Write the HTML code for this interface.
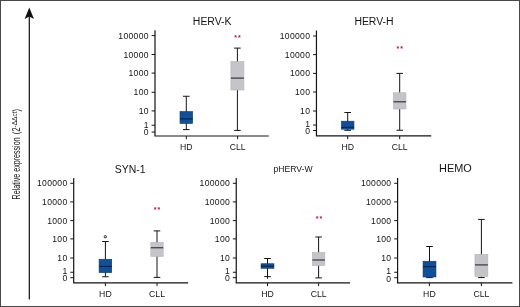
<!DOCTYPE html>
<html lang="en"><head><meta charset="utf-8"><title>Relative expression of HERV families in HD and CLL</title>
<style>
html,body{margin:0;padding:0;background:#fff;}
body{width:520px;height:307px;overflow:hidden;}
svg{display:block;}
text{font-family:"Liberation Sans",sans-serif;fill:#141414;}
.tk{font-size:8.6px;text-anchor:end;letter-spacing:0.3px;}
.xl{font-size:8.7px;text-anchor:middle;}
.tt{text-anchor:middle;}
.st{font-size:7px;text-anchor:middle;fill:#b91238;font-weight:bold;letter-spacing:1px;}
</style></head><body>
<svg width="520" height="307" viewBox="0 0 520 307">
<rect x="0" y="0" width="520" height="307" fill="#fff"/>
<rect x="0.5" y="0.5" width="519" height="306" fill="none" stroke="#484848" stroke-width="1"/>

<line x1="29.3" y1="14" x2="29.3" y2="299.5" stroke="#111" stroke-width="1.2"/>
<path d="M29.3 7.6 L34 19 L29.3 16.4 L24.6 19 Z" fill="#111"/>
<text transform="translate(19.8,199.4) rotate(-90)" font-size="10.3px" x="0" y="0" textLength="62" lengthAdjust="spacingAndGlyphs">Relative expression</text>
<text transform="translate(19.8,134.3) rotate(-90)" font-size="10.3px" x="0" y="0" textLength="6.9" lengthAdjust="spacingAndGlyphs">(2</text>
<text transform="translate(17,127.4) rotate(-90)" font-size="6.5px" x="0" y="0">-ΔΔct</text>
<text transform="translate(19.8,111.4) rotate(-90) scale(0.76,1)" font-size="10.3px" x="0" y="0">)</text>
<g>
<text class="tt" x="212.2" y="24.5" font-size="10.45px">HERV-K</text>
<path d="M155.0 30.2 V136.0 H268.75" fill="none" stroke="#141414" stroke-width="1.2"/>
<line x1="151.6" y1="35.6" x2="155.0" y2="35.6" stroke="#141414" stroke-width="1"/>
<text class="tk" x="148.8" y="38.65">100000</text>
<line x1="151.6" y1="54.5" x2="155.0" y2="54.5" stroke="#141414" stroke-width="1"/>
<text class="tk" x="148.8" y="57.55">10000</text>
<line x1="151.6" y1="73.1" x2="155.0" y2="73.1" stroke="#141414" stroke-width="1"/>
<text class="tk" x="148.8" y="76.15">1000</text>
<line x1="151.6" y1="92.25" x2="155.0" y2="92.25" stroke="#141414" stroke-width="1"/>
<text class="tk" x="148.8" y="95.30">100</text>
<line x1="151.6" y1="110.9" x2="155.0" y2="110.9" stroke="#141414" stroke-width="1"/>
<text class="tk" x="148.8" y="113.95">10</text>
<line x1="151.6" y1="125.25" x2="155.0" y2="125.25" stroke="#141414" stroke-width="1"/>
<text class="tk" x="148.8" y="127.85">1</text>
<line x1="151.6" y1="132.1" x2="155.0" y2="132.1" stroke="#141414" stroke-width="1"/>
<text class="tk" x="148.8" y="134.85">0</text>
<line x1="186.3" y1="136.0" x2="186.3" y2="139.2" stroke="#141414" stroke-width="1"/>
<text class="xl" x="186.3" y="150.3">HD</text>
<line x1="237.6" y1="136.0" x2="237.6" y2="139.2" stroke="#141414" stroke-width="1"/>
<text class="xl" x="237.6" y="150.3">CLL</text>
<line x1="186.3" y1="96.25" x2="186.3" y2="129.6" stroke="#141414" stroke-width="1"/>
<line x1="183.0" y1="96.25" x2="189.60000000000002" y2="96.25" stroke="#141414" stroke-width="1"/>
<line x1="183.0" y1="129.6" x2="189.60000000000002" y2="129.6" stroke="#141414" stroke-width="1"/>
<rect x="180.00" y="111.6" width="12.6" height="11.90" fill="#10509a" stroke="#0b3568" stroke-width="0.6"/>
<line x1="180.00" y1="118.9" x2="192.60" y2="118.9" stroke="#061c3a" stroke-width="1.0"/>
<line x1="237.4" y1="48.1" x2="237.4" y2="130.4" stroke="#141414" stroke-width="1"/>
<line x1="234.1" y1="48.1" x2="240.70000000000002" y2="48.1" stroke="#141414" stroke-width="1"/>
<line x1="234.1" y1="130.4" x2="240.70000000000002" y2="130.4" stroke="#141414" stroke-width="1"/>
<rect x="230.90" y="61.5" width="13.0" height="28.50" fill="#c5c4c9" stroke="#b4b3b9" stroke-width="0.6"/>
<line x1="230.90" y1="78.1" x2="243.90" y2="78.1" stroke="#3c3c40" stroke-width="1.25"/>
<text class="st" x="238.1" y="40.30">**</text>
</g>
<g>
<text class="tt" x="374.0" y="24.5" font-size="10.45px">HERV-H</text>
<path d="M316.45 30.5 V135.95 H431.25" fill="none" stroke="#141414" stroke-width="1.2"/>
<line x1="313.05" y1="36.0" x2="316.45" y2="36.0" stroke="#141414" stroke-width="1"/>
<text class="tk" x="310.25" y="39.05">100000</text>
<line x1="313.05" y1="54.6" x2="316.45" y2="54.6" stroke="#141414" stroke-width="1"/>
<text class="tk" x="310.25" y="57.65">10000</text>
<line x1="313.05" y1="73.4" x2="316.45" y2="73.4" stroke="#141414" stroke-width="1"/>
<text class="tk" x="310.25" y="76.45">1000</text>
<line x1="313.05" y1="92.0" x2="316.45" y2="92.0" stroke="#141414" stroke-width="1"/>
<text class="tk" x="310.25" y="95.05">100</text>
<line x1="313.05" y1="111.0" x2="316.45" y2="111.0" stroke="#141414" stroke-width="1"/>
<text class="tk" x="310.25" y="114.05">10</text>
<line x1="313.05" y1="125.0" x2="316.45" y2="125.0" stroke="#141414" stroke-width="1"/>
<text class="tk" x="310.25" y="126.80">1</text>
<line x1="313.05" y1="130.5" x2="316.45" y2="130.5" stroke="#141414" stroke-width="1"/>
<text class="tk" x="310.25" y="134.15">0</text>
<line x1="347.7" y1="135.95" x2="347.7" y2="139.14999999999998" stroke="#141414" stroke-width="1"/>
<text class="xl" x="347.7" y="150.3">HD</text>
<line x1="399.7" y1="135.95" x2="399.7" y2="139.14999999999998" stroke="#141414" stroke-width="1"/>
<text class="xl" x="399.7" y="150.3">CLL</text>
<line x1="347.7" y1="112.5" x2="347.7" y2="130.3" stroke="#141414" stroke-width="1"/>
<line x1="344.4" y1="112.5" x2="351.0" y2="112.5" stroke="#141414" stroke-width="1"/>
<line x1="344.4" y1="130.3" x2="351.0" y2="130.3" stroke="#141414" stroke-width="1"/>
<rect x="341.45" y="121.2" width="12.5" height="8.00" fill="#10509a" stroke="#0b3568" stroke-width="0.6"/>
<line x1="341.45" y1="127.3" x2="353.95" y2="127.3" stroke="#061c3a" stroke-width="1.0"/>
<line x1="399.7" y1="73.4" x2="399.7" y2="130.25" stroke="#141414" stroke-width="1"/>
<line x1="396.4" y1="73.4" x2="403.0" y2="73.4" stroke="#141414" stroke-width="1"/>
<line x1="396.4" y1="130.25" x2="403.0" y2="130.25" stroke="#141414" stroke-width="1"/>
<rect x="393.45" y="92.75" width="12.5" height="16.25" fill="#c5c4c9" stroke="#b4b3b9" stroke-width="0.6"/>
<line x1="393.45" y1="101.8" x2="405.95" y2="101.8" stroke="#3c3c40" stroke-width="1.25"/>
<text class="st" x="400.2" y="51.20">**</text>
</g>
<g>
<text class="tt" x="130.2" y="172.6" font-size="10.45px">SYN-1</text>
<path d="M73.7 178.0 V282.9 H188.1" fill="none" stroke="#141414" stroke-width="1.2"/>
<line x1="70.3" y1="183.3" x2="73.7" y2="183.3" stroke="#141414" stroke-width="1"/>
<text class="tk" x="67.5" y="186.35">100000</text>
<line x1="70.3" y1="201.9" x2="73.7" y2="201.9" stroke="#141414" stroke-width="1"/>
<text class="tk" x="67.5" y="204.95">10000</text>
<line x1="70.3" y1="220.6" x2="73.7" y2="220.6" stroke="#141414" stroke-width="1"/>
<text class="tk" x="67.5" y="223.65">1000</text>
<line x1="70.3" y1="238.9" x2="73.7" y2="238.9" stroke="#141414" stroke-width="1"/>
<text class="tk" x="67.5" y="241.95">100</text>
<line x1="70.3" y1="258.0" x2="73.7" y2="258.0" stroke="#141414" stroke-width="1"/>
<text class="tk" x="67.5" y="261.05">10</text>
<line x1="70.3" y1="272.25" x2="73.7" y2="272.25" stroke="#141414" stroke-width="1"/>
<text class="tk" x="67.5" y="273.80">1</text>
<line x1="70.3" y1="277.7" x2="73.7" y2="277.7" stroke="#141414" stroke-width="1"/>
<text class="tk" x="67.5" y="281.15">0</text>
<line x1="105.4" y1="282.9" x2="105.4" y2="286.09999999999997" stroke="#141414" stroke-width="1"/>
<text class="xl" x="105.4" y="297.3">HD</text>
<line x1="157.0" y1="282.9" x2="157.0" y2="286.09999999999997" stroke="#141414" stroke-width="1"/>
<text class="xl" x="157.0" y="297.3">CLL</text>
<line x1="105.4" y1="241.5" x2="105.4" y2="276.75" stroke="#141414" stroke-width="1"/>
<line x1="102.10000000000001" y1="241.5" x2="108.7" y2="241.5" stroke="#141414" stroke-width="1"/>
<line x1="102.10000000000001" y1="276.75" x2="108.7" y2="276.75" stroke="#141414" stroke-width="1"/>
<rect x="99.10" y="259.25" width="12.6" height="13.35" fill="#10509a" stroke="#0b3568" stroke-width="0.6"/>
<line x1="99.10" y1="266.4" x2="111.70" y2="266.4" stroke="#061c3a" stroke-width="1.0"/>
<line x1="157.0" y1="230.9" x2="157.0" y2="277.4" stroke="#141414" stroke-width="1"/>
<line x1="153.7" y1="230.9" x2="160.3" y2="230.9" stroke="#141414" stroke-width="1"/>
<line x1="153.7" y1="277.4" x2="160.3" y2="277.4" stroke="#141414" stroke-width="1"/>
<rect x="150.80" y="242.4" width="12.4" height="14.00" fill="#c5c4c9" stroke="#b4b3b9" stroke-width="0.6"/>
<line x1="150.80" y1="247.75" x2="163.20" y2="247.75" stroke="#3c3c40" stroke-width="1.25"/>
<text class="st" x="157.5" y="212.00">**</text>
<circle cx="105.3" cy="236.75" r="1.15" fill="#fff" stroke="#000" stroke-width="0.85"/>
</g>
<g>
<text class="tt" x="293.1" y="171.9" font-size="8.6px">pHERV-W</text>
<path d="M236.25 178.0 V282.9 H350.0" fill="none" stroke="#141414" stroke-width="1.2"/>
<line x1="232.85" y1="183.3" x2="236.25" y2="183.3" stroke="#141414" stroke-width="1"/>
<text class="tk" x="230.05" y="186.35">100000</text>
<line x1="232.85" y1="201.9" x2="236.25" y2="201.9" stroke="#141414" stroke-width="1"/>
<text class="tk" x="230.05" y="204.95">10000</text>
<line x1="232.85" y1="220.6" x2="236.25" y2="220.6" stroke="#141414" stroke-width="1"/>
<text class="tk" x="230.05" y="223.65">1000</text>
<line x1="232.85" y1="238.9" x2="236.25" y2="238.9" stroke="#141414" stroke-width="1"/>
<text class="tk" x="230.05" y="241.95">100</text>
<line x1="232.85" y1="258.0" x2="236.25" y2="258.0" stroke="#141414" stroke-width="1"/>
<text class="tk" x="230.05" y="261.05">10</text>
<line x1="232.85" y1="272.25" x2="236.25" y2="272.25" stroke="#141414" stroke-width="1"/>
<text class="tk" x="230.05" y="273.80">1</text>
<line x1="232.85" y1="277.7" x2="236.25" y2="277.7" stroke="#141414" stroke-width="1"/>
<text class="tk" x="230.05" y="281.35">0</text>
<line x1="267.5" y1="282.9" x2="267.5" y2="286.09999999999997" stroke="#141414" stroke-width="1"/>
<text class="xl" x="267.5" y="297.3">HD</text>
<line x1="318.6" y1="282.9" x2="318.6" y2="286.09999999999997" stroke="#141414" stroke-width="1"/>
<text class="xl" x="318.6" y="297.3">CLL</text>
<line x1="267.5" y1="258.5" x2="267.5" y2="278.8" stroke="#141414" stroke-width="1"/>
<line x1="264.2" y1="258.5" x2="270.8" y2="258.5" stroke="#141414" stroke-width="1"/>
<line x1="264.2" y1="276.6" x2="270.8" y2="276.6" stroke="#141414" stroke-width="1"/>
<rect x="261.05" y="263.75" width="12.9" height="4.55" fill="#10509a" stroke="#0b3568" stroke-width="0.6"/>
<line x1="261.05" y1="266.2" x2="273.95" y2="266.2" stroke="#061c3a" stroke-width="1.0"/>
<line x1="318.6" y1="237.0" x2="318.6" y2="277.9" stroke="#141414" stroke-width="1"/>
<line x1="315.3" y1="237.0" x2="321.90000000000003" y2="237.0" stroke="#141414" stroke-width="1"/>
<line x1="315.3" y1="277.9" x2="321.90000000000003" y2="277.9" stroke="#141414" stroke-width="1"/>
<rect x="312.35" y="252.5" width="12.5" height="13.10" fill="#c5c4c9" stroke="#b4b3b9" stroke-width="0.6"/>
<line x1="312.35" y1="260.0" x2="324.85" y2="260.0" stroke="#3c3c40" stroke-width="1.25"/>
<text class="st" x="319.4" y="221.00">**</text>
</g>
<g>
<text class="tt" x="455.4" y="171.7" font-size="10.9px">HEMO</text>
<path d="M397.6 178.0 V282.9 H512.4" fill="none" stroke="#141414" stroke-width="1.2"/>
<line x1="394.20000000000005" y1="183.3" x2="397.6" y2="183.3" stroke="#141414" stroke-width="1"/>
<text class="tk" x="391.40000000000003" y="186.35">100000</text>
<line x1="394.20000000000005" y1="201.9" x2="397.6" y2="201.9" stroke="#141414" stroke-width="1"/>
<text class="tk" x="391.40000000000003" y="204.95">10000</text>
<line x1="394.20000000000005" y1="220.6" x2="397.6" y2="220.6" stroke="#141414" stroke-width="1"/>
<text class="tk" x="391.40000000000003" y="223.65">1000</text>
<line x1="394.20000000000005" y1="238.9" x2="397.6" y2="238.9" stroke="#141414" stroke-width="1"/>
<text class="tk" x="391.40000000000003" y="241.95">100</text>
<line x1="394.20000000000005" y1="258.0" x2="397.6" y2="258.0" stroke="#141414" stroke-width="1"/>
<text class="tk" x="391.40000000000003" y="261.05">10</text>
<line x1="394.20000000000005" y1="272.25" x2="397.6" y2="272.25" stroke="#141414" stroke-width="1"/>
<text class="tk" x="391.40000000000003" y="273.70">1</text>
<line x1="394.20000000000005" y1="277.7" x2="397.6" y2="277.7" stroke="#141414" stroke-width="1"/>
<text class="tk" x="391.40000000000003" y="281.85">0</text>
<line x1="429.4" y1="282.9" x2="429.4" y2="286.09999999999997" stroke="#141414" stroke-width="1"/>
<text class="xl" x="429.4" y="297.3">HD</text>
<line x1="481.4" y1="282.9" x2="481.4" y2="286.09999999999997" stroke="#141414" stroke-width="1"/>
<text class="xl" x="481.4" y="297.3">CLL</text>
<line x1="429.5" y1="246.5" x2="429.5" y2="277.6" stroke="#141414" stroke-width="1"/>
<line x1="426.2" y1="246.5" x2="432.8" y2="246.5" stroke="#141414" stroke-width="1"/>
<line x1="426.2" y1="277.6" x2="432.8" y2="277.6" stroke="#141414" stroke-width="1"/>
<rect x="423.05" y="261.25" width="12.9" height="15.75" fill="#10509a" stroke="#0b3568" stroke-width="0.6"/>
<line x1="423.05" y1="266.7" x2="435.95" y2="266.7" stroke="#061c3a" stroke-width="1.0"/>
<line x1="481.4" y1="219.4" x2="481.4" y2="277.6" stroke="#141414" stroke-width="1"/>
<line x1="478.09999999999997" y1="219.4" x2="484.7" y2="219.4" stroke="#141414" stroke-width="1"/>
<line x1="478.09999999999997" y1="277.6" x2="484.7" y2="277.6" stroke="#141414" stroke-width="1"/>
<rect x="474.95" y="254.4" width="12.9" height="22.00" fill="#c5c4c9" stroke="#b4b3b9" stroke-width="0.6"/>
<line x1="474.95" y1="264.9" x2="487.85" y2="264.9" stroke="#3c3c40" stroke-width="1.25"/>
</g>
</svg></body></html>
